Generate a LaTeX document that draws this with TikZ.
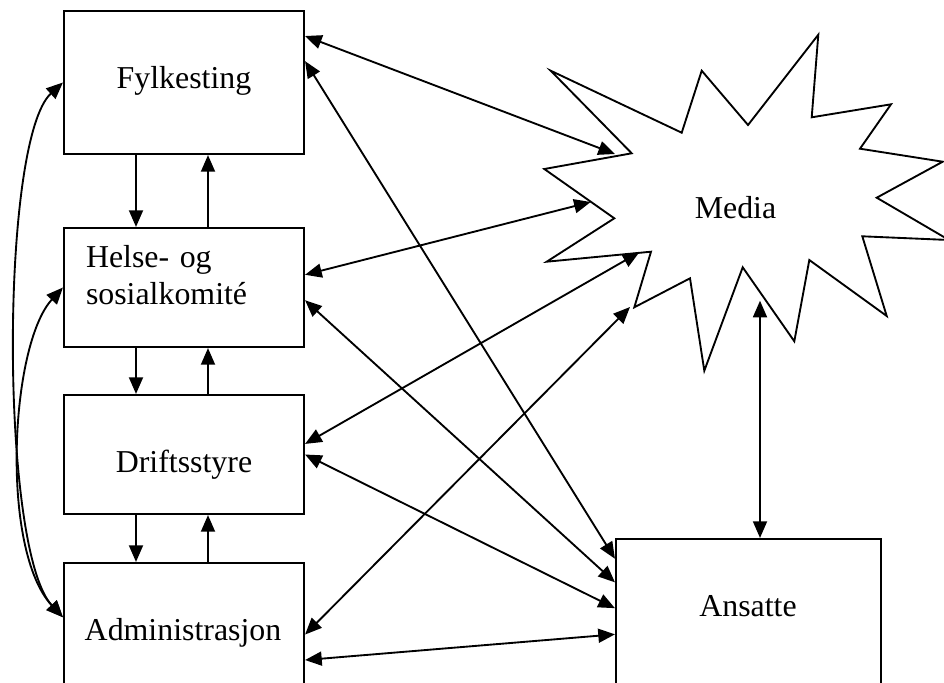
\documentclass[tikz,border=0pt]{standalone}
\usepackage{fontspec}
\setmainfont{Liberation Serif}
\usetikzlibrary{arrows.meta}

\begin{document}
\begin{tikzpicture}[x=0.75pt,y=0.75pt,yscale=-1,xscale=1,
    box/.style={draw,line width=1.6pt,inner sep=0pt,minimum width=180pt},
    lbl/.style={inner sep=0pt,font=\fontsize{23.9}{27.75}\selectfont},
    link/.style={line width=1.4pt,{Triangle[length=12.5pt,width=10.5pt]}-{Triangle[length=12.5pt,width=10.5pt]}},
    oneway/.style={line width=1.4pt,-{Triangle[length=12.5pt,width=10.5pt]}}]
    \useasboundingbox (0,0) rectangle (944,682);
    \clip (0,0) rectangle (944,682);

    %Shape: Rectangle
    \node[box,minimum height=107.25pt] (fyl) at (184,82.5) {};
    %Shape: Rectangle
    \node[box,minimum height=89.25pt] (hel) at (184,287.5) {};
    %Shape: Rectangle
    \node[box,minimum height=89.25pt] (dri) at (184,454.5) {};
    %Shape: Rectangle
    \node[box,minimum height=120pt] (adm) at (184,643) {};
    %Shape: Rectangle
    \node[box,minimum width=198.75pt,minimum height=150pt] (ans) at (748.5,639) {};

    %Shape: Explosion
    \draw[line width=1.4pt] (550.7,70.7) -- (681.7,132.7) -- (701.7,70.7) -- (748,125) -- (818.3,34.7) -- (811.7,117.3) -- (891,104.3) -- (860,148.7) -- (942.7,161.7) -- (876.7,197.7) -- (949,240) -- (862.3,236.3) -- (886.7,316) -- (809.3,260) -- (794.3,341.3) -- (742.7,267.3) -- (704.3,370.7) -- (690,278.3) -- (634.3,307.3) -- (651,251.7) -- (546.7,261.7) -- (614.3,218.3) -- (544.3,169) -- (631.7,153.3) -- cycle ;

    % Text Node
    \node[lbl] (fyltxt) at (184,81) {Fylkesting};
    % Text Node
    \node[lbl,text width=147pt,align=left] (heltxt) at (184,275) {Helse- og\\sosialkomité};
    % Text Node
    \node[lbl] (dritxt) at (184,464.5) {Driftsstyre};
    % Text Node
    \node[lbl] (admtxt) at (183,632.7) {Administrasjon};
    % Text Node
    \node[lbl] (anstxt) at (748,606.5) {Ansatte};
    % Text Node
    \node[lbl] (media) at (735.5,207.5) {Media};

    %ends on the star
    \coordinate (mfyl) at (615,154);
    \coordinate (mhel) at (590.7,202);
    \coordinate (mdri) at (639.3,252.3);
    \coordinate (madm) at (630,307);
    \coordinate (mans) at (760,300.7);

    %Straight Lines
    \draw[link] (fyl.21.59) -- (mfyl);
    \draw[link] (fyl.10.62) -- (ans.149.52);
    %Straight Lines
    \draw[link] (hel.6.42) -- (mhel);
    \draw[link] (hel.354.05) -- (ans.157.83);
    %Straight Lines
    \draw[link] (dri.5.47) -- (mdri);
    \draw[link] (dri.east) -- (ans.167.65);
    %Straight Lines
    \draw[link] (adm.4.76) -- (madm);
    \draw[link] (adm.352.87) -- (ans.178.7);
    %Straight Lines
    \draw[link] (mans) -- (mans |- ans.north);

    %Straight Lines
    \draw[oneway] ([xshift=-36pt]fyl.south) -- ([xshift=-36pt]hel.north);
    \draw[oneway] ([xshift=18pt]hel.north) -- ([xshift=18pt]fyl.south);
    \draw[oneway] ([xshift=-36pt]hel.south) -- ([xshift=-36pt]dri.north);
    \draw[oneway] ([xshift=18pt]dri.north) -- ([xshift=18pt]hel.south);
    \draw[oneway] ([xshift=-36pt]dri.south) -- ([xshift=-36pt]adm.north);
    \draw[oneway] ([xshift=18pt]adm.north) -- ([xshift=18pt]dri.south);

    %Curve Lines
    \draw[link] (adm.168.23) .. controls (0,550) and (0,140) .. (fyl.west);
    \draw[link] (adm.168.23) .. controls (0,550) and (10,345) .. (hel.west);
\end{tikzpicture}
\end{document}
